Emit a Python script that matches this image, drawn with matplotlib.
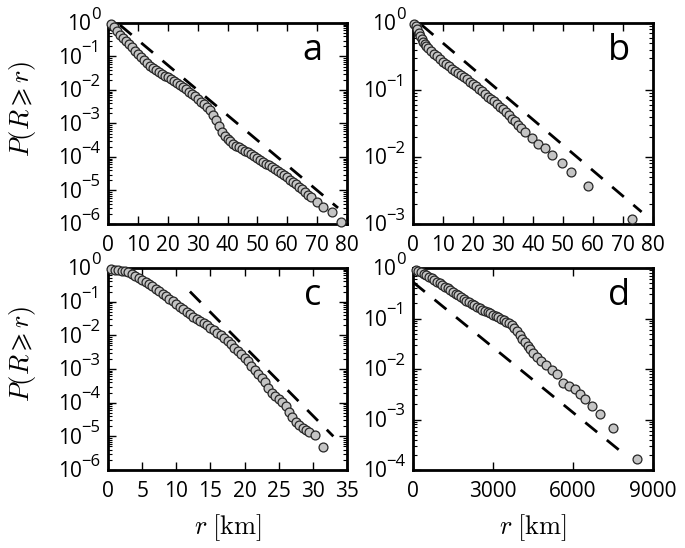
import numpy as np
import matplotlib
matplotlib.use("Agg")
import matplotlib.pyplot as plt
import matplotlib.transforms as mtrans
from matplotlib.ticker import LogLocator, FixedLocator, NullFormatter, NullLocator

plt.rcParams['font.family'] = ['Open Sans', 'DejaVu Sans']
plt.rcParams['mathtext.fontset'] = 'custom'
plt.rcParams['mathtext.rm'] = 'Open Sans'
plt.rcParams['mathtext.it'] = 'Open Sans:italic'
plt.rcParams['mathtext.bf'] = 'Open Sans:bold'
plt.rcParams['lines.scale_dashes'] = False

# ---------------- data (r in km, log10 P(R>=r)) ----------------
a_r = [1, 2, 3, 4, 5, 6, 7, 8, 9, 10, 11, 12, 13, 14, 15, 16, 17, 18, 19, 20,
       21, 22, 23, 24, 25, 26, 27, 28, 29, 30, 31, 32, 33, 34, 35, 36, 37, 38, 39, 40,
       41, 42, 43, 44, 45, 46, 47, 48, 49, 50, 51, 52, 53, 54, 55, 56, 57, 58, 59, 60,
       61, 62, 63, 64, 65, 66, 67, 68, 70, 72, 75, 78]
a_logp = [-0.04, -0.13, -0.24, -0.35, -0.45, -0.54, -0.64, -0.73, -0.83, -0.93,
          -1.02, -1.10, -1.18, -1.27, -1.34, -1.40, -1.46, -1.52, -1.57, -1.62,
          -1.68, -1.73, -1.79, -1.85, -1.91, -1.98, -2.05, -2.12, -2.19, -2.27,
          -2.35, -2.43, -2.50, -2.60, -2.75, -2.90, -3.08, -3.24, -3.36, -3.46,
          -3.53, -3.60, -3.66, -3.71, -3.77, -3.82, -3.86, -3.91, -3.96, -4.04,
          -4.10, -4.15, -4.20, -4.25, -4.31, -4.37, -4.42, -4.48, -4.54, -4.61,
          -4.68, -4.74, -4.81, -4.89, -4.96, -5.04, -5.12, -5.19, -5.33, -5.48,
          -5.63, -5.93]
a_dash_r = [4, 77]
a_dash_logp = [-0.06, -5.52]

b_r = [0.5, 1.0, 1.5, 2.0, 2.5, 3.0, 3.5, 4.0, 4.5, 5, 6, 7, 8, 9, 10, 11, 12, 13, 14, 15,
       16, 17, 18, 19, 20, 21, 22, 23, 24, 25, 26, 27, 28, 29, 30, 31, 32, 33, 34, 35,
       36, 37.3, 39.6, 41.8, 44.0, 46.4, 49.6, 52.7, 58.4, 72.9]
b_logp = [-0.01, -0.04, -0.09, -0.15, -0.20, -0.24, -0.28, -0.31, -0.34, -0.37,
          -0.42, -0.46, -0.50, -0.54, -0.58, -0.61, -0.64, -0.68, -0.71, -0.74,
          -0.77, -0.81, -0.84, -0.88, -0.91, -0.94, -0.98, -1.02, -1.06, -1.10,
          -1.13, -1.17, -1.21, -1.25, -1.29, -1.33, -1.38, -1.43, -1.47, -1.52,
          -1.56, -1.62, -1.71, -1.80, -1.87, -1.97, -2.09, -2.23, -2.44, -2.93]
b_dash_r = [2.9, 76.2]
b_dash_logp = [-0.03, -2.82]

c_r = [0.5, 1.0, 1.5, 2.0, 2.5, 3.0, 3.5, 4.0, 4.5, 5.0, 5.5, 6.0, 6.5, 7.0, 7.5, 8.0,
       8.5, 9.0, 9.5, 10.0, 10.5, 11.0, 11.5, 12.0, 12.5, 13.0, 13.5, 14.0, 14.5, 15.0,
       15.5, 16.0, 16.5, 17.0, 17.5, 18.0, 18.5, 19.0, 19.5, 20.0, 20.5, 21.0, 21.5,
       22.0, 22.5, 23.0, 23.5, 24.0, 24.5, 25.0, 25.5, 26.0, 26.5, 27.0, 27.5, 28.0,
       28.5, 29.0, 29.5, 30.3, 31.5]
c_logp = [-0.04, -0.05, -0.06, -0.08, -0.10, -0.13, -0.17, -0.23, -0.29, -0.35,
          -0.41, -0.48, -0.54, -0.61, -0.68, -0.76, -0.83, -0.91, -0.99, -1.07,
          -1.15, -1.23, -1.30, -1.38, -1.45, -1.51, -1.57, -1.63, -1.70, -1.77,
          -1.85, -1.92, -2.00, -2.09, -2.17, -2.27, -2.37, -2.46, -2.55, -2.66,
          -2.77, -2.90, -3.03, -3.16, -3.28, -3.40, -3.56, -3.70, -3.80, -3.88,
          -3.97, -4.10, -4.28, -4.44, -4.56, -4.66, -4.74, -4.80, -4.86, -4.97,
          -5.31]
c_dash_r = [12, 33]
c_dash_logp = [-0.70, -5.0]

d_r = [100, 200, 300, 400, 500, 600, 700, 800, 900, 1000, 1100, 1200, 1300, 1400,
       1500, 1600, 1700, 1800, 1900, 2000, 2100, 2200, 2300, 2400, 2500, 2600, 2700,
       2800, 2900, 3000, 3100, 3200, 3300, 3400, 3500, 3600, 3700, 3800, 3900, 4000,
       4100, 4200, 4300, 4400, 4500, 4650, 4800, 5000, 5200, 5400, 5640, 5860, 6080,
       6260, 6450, 6700, 7000, 7490, 8400]
d_logp = [-0.03, -0.06, -0.08, -0.11, -0.14, -0.17, -0.20, -0.23, -0.27, -0.30,
          -0.33, -0.37, -0.40, -0.44, -0.47, -0.51, -0.54, -0.58, -0.61, -0.65,
          -0.68, -0.71, -0.74, -0.77, -0.80, -0.83, -0.85, -0.88, -0.90, -0.93,
          -0.95, -0.98, -1.00, -1.03, -1.06, -1.09, -1.13, -1.18, -1.24, -1.32,
          -1.40, -1.47, -1.54, -1.61, -1.68, -1.76, -1.84, -1.92, -2.01, -2.10,
          -2.27, -2.34, -2.40, -2.50, -2.60, -2.73, -2.90, -3.16, -3.79]
d_dash_r = [0, 7950]
d_dash_logp = [-0.28, -3.70]

panel_letters = ['a', 'b', 'c', 'd']
xlims = [(0, 80), (0, 80), (0, 35), (0, 9000)]
xticks = [list(range(0, 81, 10)), list(range(0, 81, 10)), list(range(0, 36, 5)),
          [0, 3000, 6000, 9000]]
ydecades = [list(range(0, -7, -1)), list(range(0, -4, -1)),
            list(range(0, -7, -1)), list(range(0, -5, -1))]
ylabel_text = r'$P(R\geqslant r)$'
xlabel_text = r'$r\;[\mathrm{km}]$'

series = [(a_r, a_logp, a_dash_r, a_dash_logp),
          (b_r, b_logp, b_dash_r, b_dash_logp),
          (c_r, c_logp, c_dash_r, c_dash_logp),
          (d_r, d_logp, d_dash_r, d_dash_logp)]

fig = plt.figure(figsize=(6.85, 5.48), dpi=100)
W, H = 685.0, 548.0
boxes = [(108, 23, 347, 224), (413, 23, 653, 224),
         (108, 268, 347, 470), (413, 268, 653, 470)]

BASE_FS = 15
EXP_FS = 12

for i, (x0, y0, x1, y1) in enumerate(boxes):
    ax = fig.add_axes([x0 / W, 1 - y1 / H, (x1 - x0) / W, (y1 - y0) / H])
    r, lp, dr, dlp = series[i]
    ax.plot(dr, 10 ** np.array(dlp), color='black', lw=2.0, ls=(0, (11, 9)),
            zorder=2)
    ax.plot(r, 10 ** np.array(lp), 'o', ms=6.4, mfc='#c4c4c4', mec='#262626',
            mew=0.9, zorder=3, clip_on=False)
    ax.set_yscale('log')
    ax.set_xlim(*xlims[i])
    dec = ydecades[i]
    ax.set_ylim(10.0 ** dec[-1], 10.0 ** dec[0])
    ax.xaxis.set_major_locator(FixedLocator(xticks[i]))
    ax.xaxis.set_minor_locator(NullLocator())
    ax.yaxis.set_major_locator(FixedLocator([10.0 ** e for e in dec]))
    ax.yaxis.set_minor_locator(LogLocator(base=10, subs=np.arange(2, 10), numticks=20))
    ax.yaxis.set_minor_formatter(NullFormatter())
    ax.tick_params(which='both', direction='in', top=True, right=True,
                   labelsize=BASE_FS, labelleft=False)
    ax.tick_params(which='major', length=6, width=1.0, pad=8)
    ax.tick_params(which='minor', length=3, width=0.8)
    for s in ax.spines.values():
        s.set_linewidth(2.0)

    # y tick labels: "10" with a large raised exponent
    blend = mtrans.blended_transform_factory(ax.transAxes, ax.transData)
    for e in dec:
        etxt = str(e).replace('-', '\u2212') if e < 0 else str(e)
        tr = mtrans.offset_copy(blend, fig=fig, x=-5.5, y=3.0, units='points')
        ex = ax.text(0, 10.0 ** e, etxt, transform=tr, ha='right', va='baseline',
                     fontsize=EXP_FS, clip_on=False)
        ax.annotate('10', xy=(0, 0), xycoords=ex, xytext=(0.3, -5.5),
                    textcoords='offset points', ha='right', va='baseline',
                    fontsize=BASE_FS, annotation_clip=False)

    ax.text(0.857, 0.815, panel_letters[i], transform=ax.transAxes,
            ha='center', va='baseline', fontsize=26)
    if i in (0, 2):
        fig.text(22 / W, 1 - (y0 + y1 - 30) / 2 / H, ylabel_text, rotation=90,
                 ha='center', va='center', fontsize=19, math_fontfamily='cm')
    if i in (2, 3):
        ax.set_xlabel(xlabel_text, fontsize=19, math_fontfamily='cm',
                      labelpad=7)

fig.savefig('out.png', dpi=100)
